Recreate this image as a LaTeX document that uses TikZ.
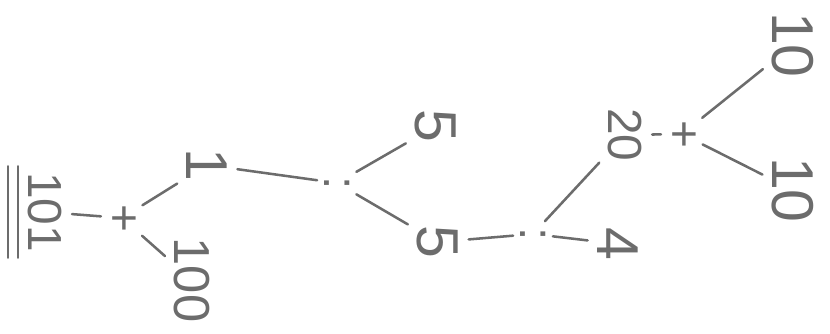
\documentclass[tikz,border=0pt]{standalone}
\usepackage{fontspec}
\setmainfont{Liberation Sans}
\usetikzlibrary{positioning,calc}
\definecolor{PencilGray}{RGB}{108,108,108}
\tikzset{
  num/.style={rotate=-90,text=PencilGray,inner sep=4pt,
    font=\fontsize{42}{42}\selectfont},
  oper/.style={rotate=-90,text=PencilGray,inner sep=2pt,
    font=\fontsize{34}{34}\selectfont},
  pencil/.style={draw=PencilGray,line width=1.8pt,line cap=round,
    shorten <=3pt,shorten >=3pt}
}

\begin{document}
\begin{tikzpicture}[x=0.025cm,y=-0.025cm]
  \useasboundingbox (0,0) rectangle (830,334);
  % top: 10 + 10
  \node[num] (tenA) at (793,45) {10};
  \node[num] (tenB) at (793,190) {10};
  \node[oper] (plusA) at (682,134) {+};
  \node[num,font=\fontsize{34}{34}\selectfont] (twenty) at (625,135) {20};
  % 20 : 4
  \node[num] (four) at (618,244) {4};
  \node[oper] (colA) at (533,234) {:};
  \node[num] (fiveB) at (438,242) {5};
  % 5 : 5
  \node[num] (fiveA) at (436,126) {5};
  \node[oper] (colB) at (337,183) {:};
  \node[num] (one) at (207,165) {1};
  % 1 + 100
  \node[num,font=\fontsize{36}{36}\selectfont] (hundred) at (192,280) {100};
  \node[oper] (plusB) at (122,218) {+};
  \node[num,font=\fontsize{34}{34}\selectfont] (result) at (45,212) {101};

  \draw[pencil] (plusA) -- (tenA);
  \draw[pencil] (plusA) -- (tenB);
  \draw[pencil] (plusA) -- (twenty);
  \draw[pencil] (colA) -- (twenty);
  \draw[pencil] (colA) -- (four);
  \draw[pencil] (colA) -- (fiveB);
  \draw[pencil] (colB) -- (fiveA);
  \draw[pencil] (colB) -- (fiveB);
  \draw[pencil] (colB) -- (one);
  \draw[pencil] (plusB) -- (one);
  \draw[pencil] (plusB) -- (hundred);
  \draw[pencil] (plusB) -- (result);
  % double underline of the result
  \draw[pencil,shorten <=0pt,shorten >=0pt] ([xshift=-3pt]result.south west) -- ([xshift=-3pt]result.south east);
  \draw[pencil,shorten <=0pt,shorten >=0pt] ([xshift=-10pt]result.south west) -- ([xshift=-10pt]result.south east);
\end{tikzpicture}
\end{document}
